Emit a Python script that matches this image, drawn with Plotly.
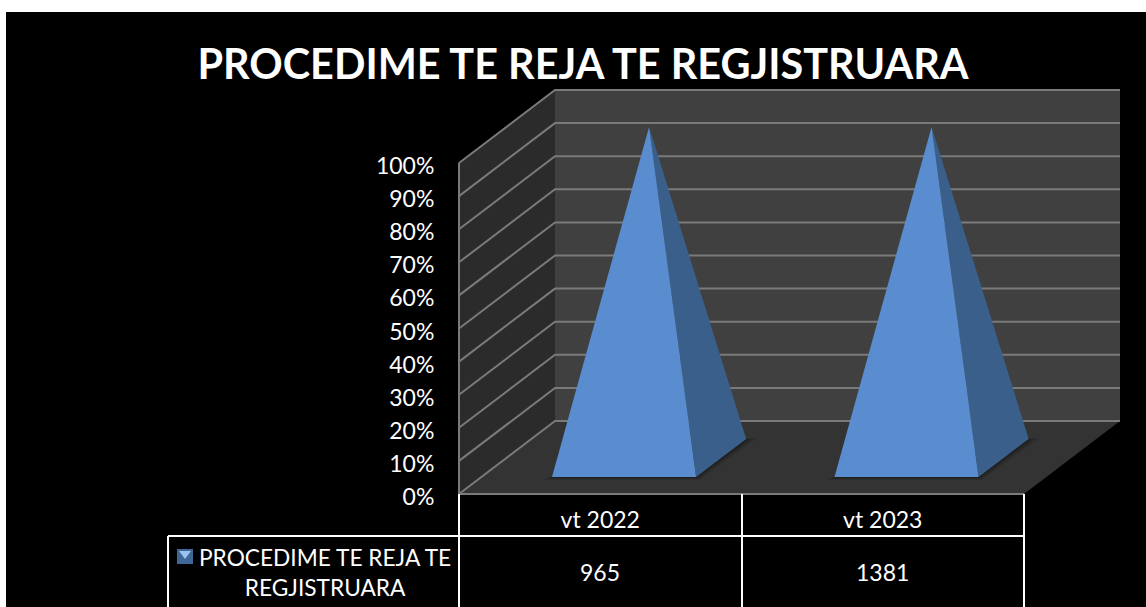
import plotly.graph_objects as go

# ---- data ----
categories = ["vt 2022", "vt 2023"]
series_name = "PROCEDIME TE REJA TE<br>REGJISTRUARA"
table_values = [965, 1381]
stacked_percent = [100, 100]
percent_ticks = [0, 10, 20, 30, 40, 50, 60, 70, 80, 90, 100]
chart_title = "PROCEDIME TE REJA TE REGJISTRUARA"

# ---- projection of the 3-D box onto the axes ----
W, H = 1146, 607
ML, MT = 6, 12
PX_X0, PX_CAT = 459.0, 282.5   # pixel of category 0, pixels per category
PX_Y0, PX_PCT = 494.0, 3.31    # pixel of 0 %, pixels per percent
DX, DY = 96.0, 73.0            # depth offset in pixels
FONT = "Lato"


def px(x):
    return (x - PX_X0) / PX_CAT


def py(y):
    return (PX_Y0 - y) / PX_PCT


def proj(cat, pct, depth=0.0):
    return cat + depth * DX / PX_CAT, pct + depth * DY / PX_PCT


def poly(points, fill, line=None, width=0, opacity=1.0):
    xs, ys = zip(*[proj(*p) for p in points + points[:1]])
    return go.Scatter(x=xs, y=ys, mode="lines", fill="toself", fillcolor=fill, opacity=opacity,
                      line=dict(color=line or fill, width=width), hoverinfo="skip", showlegend=False)


n = len(categories)
traces = []
top = percent_ticks[-1]
# walls and floor
traces.append(poly([(0, 0, 0), (0, top, 0), (0, top, 1), (0, 0, 1)], "#2b2b2b"))
traces.append(poly([(0, 0, 1), (0, top, 1), (n, top, 1), (n, 0, 1)], "#404040"))
traces.append(poly([(0, 0, 0), (n, 0, 0), (n, 0, 1), (0, 0, 1)], "#333333"))
# gridlines
for p in percent_ticks:
    xs, ys = zip(*[proj(0, p, 0), proj(0, p, 1), proj(n, p, 1)])
    traces.append(go.Scatter(x=xs, y=ys, mode="lines", line=dict(color="#7a7a7a", width=2),
                             hoverinfo="skip", showlegend=False))
xs, ys = zip(*[proj(0, top, 0), proj(0, 0, 0), proj(n, 0, 0)])
traces.append(go.Scatter(x=xs, y=ys, mode="lines", line=dict(color="#7a7a7a", width=2),
                         hoverinfo="skip", showlegend=False))

# pyramids
B0, B1 = 0.25, 0.76
D0, D1 = 0.233, 0.755
for i, v in enumerate(stacked_percent):
    a, b, m = i + B0, i + B1, i + (B0 + B1) / 2
    dm = (D0 + D1) / 2
    # soft contact shadow
    for off, op in [(0.035, 0.10), (0.02, 0.14), (0.01, 0.18)]:
        traces.append(poly([(a - off, -off * 25, D0), (b + off / 3, -off * 25, D0), (b + off, 0, D1 + 0.01),
                            (b, 0, D1), (a, 0, D0)], "#000000", opacity=op))
    traces.append(poly([(b, 0, D0), (b, 0, D1), (m, v, dm)], "#3a5f8b"))
    traces.append(poly([(a, 0, D0), (b, 0, D0), (m, v, dm)], "#5a8dcf"))

fig = go.Figure(traces)

# value table
white = dict(color="white", width=2)
rules = [
    (px(459), py(494), px(459), py(H)),
    (px(742), py(494), px(742), py(H)),
    (px(1024), py(494), px(1024), py(H)),
    (px(168), py(536), px(1024), py(536)),
    (px(168), py(536), px(168), py(H)),
]
shapes = [dict(type="line", xref="x", yref="y", x0=a, y0=b, x1=c, y1=d, line=white) for a, b, c, d in rules]
# legend key
shapes.append(dict(type="rect", xref="x", yref="y", x0=px(177), x1=px(193), y0=py(549), y1=py(564),
                   fillcolor="#3f6796", line=dict(width=0)))
shapes.append(dict(type="path", xref="x", yref="y",
                   path=f"M {px(179)} {py(551)} L {px(191)} {py(551)} L {px(185)} {py(559)} Z",
                   fillcolor="#9cc3ee", line=dict(width=0)))

anns = [dict(x=i + 0.5, y=py(572), xref="x", yref="y", text=str(v), showarrow=False,
             font=dict(family=FONT, size=23, color="white")) for i, v in enumerate(table_values)]
anns.append(dict(x=px(325), y=py(572), xref="x", yref="y", text=series_name, showarrow=False, align="center",
                 font=dict(family=FONT, size=22.7, color="white")))

fig.update_layout(
    width=W, height=H, autosize=False,
    margin=dict(l=ML, t=MT, r=0, b=0, pad=0),
    paper_bgcolor="white", plot_bgcolor="black",
    showlegend=False, shapes=shapes, annotations=anns,
    title=dict(text=f"<b>{chart_title}</b>", x=583 / W, xanchor="center", y=1 - 65 / H, yanchor="middle",
               font=dict(family=FONT, size=41.4, color="white")),
    xaxis=dict(range=[px(ML), px(W)], showgrid=False, zeroline=False, showline=False,
               tickmode="array", tickvals=[i + 0.5 for i in range(n)], ticktext=categories,
               ticks="outside", ticklen=5, tickcolor="rgba(0,0,0,0)", anchor="free", position=(H - 494) / (H - MT),
               tickfont=dict(family=FONT, size=23, color="white")),
    yaxis=dict(range=[py(H), py(MT)], showgrid=False, zeroline=False, showline=False,
               tickmode="array", tickvals=percent_ticks, ticktext=[f"{p}%" for p in percent_ticks],
               ticks="outside", ticklen=20, tickcolor="rgba(0,0,0,0)", anchor="free", position=(459 - ML) / (W - ML),
               ticklabelshift=3,
               tickfont=dict(family=FONT, size=23, color="white")),
)
fig.write_html("out.html", post_script="document.body.style.margin='0';", config={"displayModeBar": False})
